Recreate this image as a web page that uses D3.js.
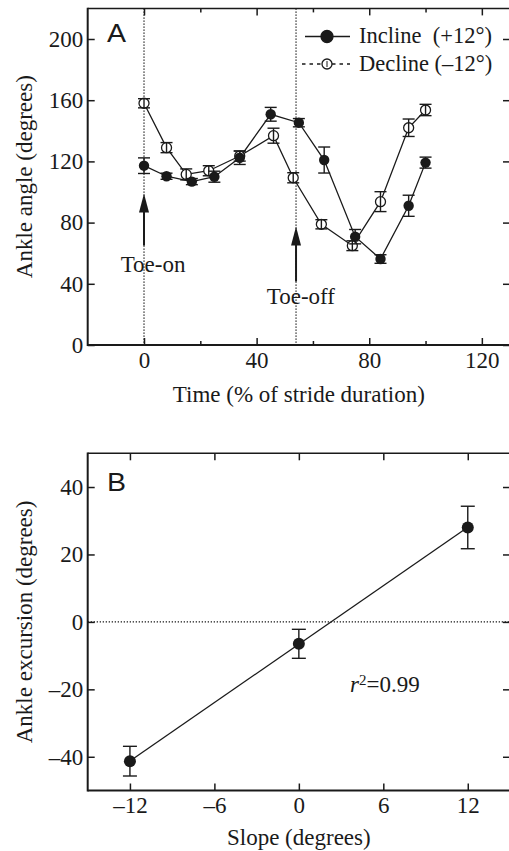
<!DOCTYPE html>
<html>
<head>
<meta charset="utf-8">
<script src="https://cdn.jsdelivr.net/npm/d3@7"></script>
<style>
  html, body { margin: 0; padding: 0; background: #fff; }
  svg { display: block; }
  text { font-family: "Liberation Serif", "Times New Roman", serif; fill: #1a1a1a; }
  .panel-letter { font-family: "Liberation Sans", Arial, sans-serif; }
</style>
</head>
<body>
<script>
// ---- Panel A: ankle angle over the stride ----
const inclineTime  = [0, 8, 17, 25, 34, 45, 55, 64, 75, 84, 94, 100];
const inclineAngle = [117.2, 110.3, 106.8, 110.0, 122.4, 150.8, 145.3, 120.9, 70.8, 56.2, 91.0, 119.2];
const inclineErr   = [5.1, 2.0, 2.0, 3.6, 4.4, 4.5, 2.7, 8.5, 4.7, 2.8, 6.9, 3.6];

const declineTime  = [0, 8, 15, 23, 34, 46, 53, 63, 74, 84, 94, 100];
const declineAngle = [158.0, 129.0, 111.5, 113.9, 123.5, 136.8, 109.3, 78.9, 64.9, 93.7, 142.0, 153.6];
const declineErr   = [3.0, 3.3, 3.6, 3.3, 3.3, 4.9, 3.3, 3.0, 3.2, 6.5, 5.7, 3.7];

const eventNames = ["Toe-on", "Toe-off"];
const eventTimes = [0, 54];

const legendLabels = ["Incline  (+12°)", "Decline (–12°)"];

const timeTicks = [0, 40, 80, 120];
const timeMinorTicks = [20, 60, 100];
const angleTicks = [0, 40, 80, 120, 160, 200];

// ---- Panel B: ankle excursion vs slope ----
const slopes     = [-12, 0, 12];
const excursion  = [-41.3, -6.5, 28.0];
const excursionErr = [4.4, 4.3, 6.3];
const slopeTicks = [-12, -6, 0, 6, 12];
const excursionTicks = [-40, -20, 0, 20, 40];
const fitLabel = "0.99";

const W = 509, H = 851;
const svg = d3.select("body").append("svg").attr("width", W).attr("height", H);

const fmt = d => (d < 0 ? "\u2013" + Math.abs(d) : String(d));
const FONT = 23;

function styleAxis(g) {
  g.attr("font-family", null).attr("font-size", null);
  g.select(".domain").remove();
  g.selectAll(".tick line").attr("stroke", "#1a1a1a").attr("stroke-width", 1.5);
  g.selectAll(".tick text").attr("font-size", FONT).attr("fill", "#1a1a1a")
    .style("font-family", "'Liberation Serif', 'Times New Roman', serif");
}

function frame(x0, x1, y0, y1) {
  const g = svg.append("g");
  g.append("line").attr("x1", x0).attr("x2", x1).attr("y1", y0).attr("y2", y0)
    .attr("stroke", "#1a1a1a").attr("stroke-width", 1.5);
  g.append("line").attr("x1", x1).attr("x2", x1).attr("y1", y0).attr("y2", y1)
    .attr("stroke", "#1a1a1a").attr("stroke-width", 1.5);
  g.append("line").attr("x1", x0).attr("x2", x0).attr("y1", y0 - 0.75).attr("y2", y1 + 1)
    .attr("stroke", "#1a1a1a").attr("stroke-width", 2);
  g.append("line").attr("x1", x0).attr("x2", x1).attr("y1", y1).attr("y2", y1)
    .attr("stroke", "#1a1a1a").attr("stroke-width", 2);
}

function errorBars(g, xs, ys, es, x, y, cap) {
  xs.forEach((xv, i) => {
    const cx = x(xv), top = y(ys[i] + es[i]), bot = y(ys[i] - es[i]);
    g.append("line").attr("x1", cx).attr("x2", cx).attr("y1", top).attr("y2", bot);
    g.append("line").attr("x1", cx - cap).attr("x2", cx + cap).attr("y1", top).attr("y2", top);
    g.append("line").attr("x1", cx - cap).attr("x2", cx + cap).attr("y1", bot).attr("y2", bot);
  });
  g.attr("stroke", "#1a1a1a").attr("stroke-width", 1.4);
}

// ================= Panel A =================
const xA = d3.scaleLinear().domain([-20, 130]).range([87.7, 510]);
const yA = d3.scaleLinear().domain([0, 220]).range([345, 8.4]);

// event markers (dotted verticals)
eventTimes.forEach(t => {
  svg.append("line").attr("x1", xA(t)).attr("x2", xA(t)).attr("y1", yA(220)).attr("y2", yA(0))
    .attr("stroke", "#1a1a1a").attr("stroke-width", 1.3).attr("stroke-dasharray", "1.3,1.7");
});

// axes with inward ticks
svg.append("g").attr("transform", `translate(0,${yA(0)})`)
  .call(d3.axisBottom(xA).tickValues(timeTicks).tickSize(-7).tickPadding(7).tickFormat(fmt))
  .call(styleAxis);
svg.append("g").attr("transform", `translate(0,${yA(0)})`)
  .call(d3.axisBottom(xA).tickValues(timeMinorTicks).tickSize(-4).tickFormat(""))
  .call(styleAxis);
svg.append("g").attr("transform", `translate(0,${yA(220)})`)
  .call(d3.axisTop(xA).tickValues(timeTicks).tickSize(-7).tickFormat(""))
  .call(styleAxis);
svg.append("g").attr("transform", `translate(0,${yA(220)})`)
  .call(d3.axisTop(xA).tickValues(timeMinorTicks).tickSize(-4).tickFormat(""))
  .call(styleAxis);
svg.append("g").attr("transform", `translate(${xA(-20)},0)`)
  .call(d3.axisLeft(yA).tickValues(angleTicks).tickSize(-7).tickPadding(4.5).tickFormat(fmt))
  .call(styleAxis);
svg.append("g").attr("transform", `translate(${xA(130)},0)`)
  .call(d3.axisRight(yA).tickValues(angleTicks).tickSize(-7).tickFormat(""))
  .call(styleAxis);
frame(xA(-20), xA(130), yA(220), yA(0));

// series lines
const lineA = d3.line().x(d => xA(d[0])).y(d => yA(d[1]));
const incPts = inclineTime.map((t, i) => [t, inclineAngle[i]]);
const decPts = declineTime.map((t, i) => [t, declineAngle[i]]);
svg.append("path").attr("d", lineA(decPts)).attr("fill", "none").attr("stroke", "#1a1a1a").attr("stroke-width", 1.3);
svg.append("path").attr("d", lineA(incPts)).attr("fill", "none").attr("stroke", "#1a1a1a").attr("stroke-width", 1.3);

// decline: open circles with bars drawn through them
svg.append("g").selectAll("circle").data(decPts).join("circle")
  .attr("cx", d => xA(d[0])).attr("cy", d => yA(d[1])).attr("r", 5)
  .attr("fill", "#fff").attr("stroke", "#1a1a1a").attr("stroke-width", 1.3);
errorBars(svg.append("g"), declineTime, declineAngle, declineErr, xA, yA, 6);

// incline: filled circles
errorBars(svg.append("g"), inclineTime, inclineAngle, inclineErr, xA, yA, 6);
svg.append("g").selectAll("circle").data(incPts).join("circle")
  .attr("cx", d => xA(d[0])).attr("cy", d => yA(d[1])).attr("r", 5.2)
  .attr("fill", "#1a1a1a");

// event arrows and labels
const arrowSpec = [
  { tail: 65, tip: 99, lx: -8.3, ly: 47.9 },
  { tail: 41.5, tip: 77.5, lx: 43.6, ly: 26.7 }
];
eventTimes.forEach((t, i) => {
  const a = arrowSpec[i];
  const cx = xA(t), tip = yA(a.tip), tail = yA(a.tail);
  svg.append("line").attr("x1", cx).attr("x2", cx).attr("y1", tip + 15).attr("y2", tail)
    .attr("stroke", "#1a1a1a").attr("stroke-width", 2);
  svg.append("path")
    .attr("d", `M${cx},${tip} L${cx - 5},${tip + 19} L${cx + 5},${tip + 19} Z`)
    .attr("fill", "#1a1a1a");
  svg.append("text").attr("x", xA(a.lx)).attr("y", yA(a.ly))
    .attr("font-size", FONT).text(eventNames[i]);
});

// legend
const leg = svg.append("g");
[0, 1].forEach(i => {
  const ly = [36.5, 64][i];
  const ln = leg.append("line").attr("x1", i ? 302 : 305).attr("x2", 350).attr("y1", ly).attr("y2", ly)
    .attr("stroke", "#1a1a1a").attr("stroke-width", 1.4);
  if (i) ln.attr("stroke-dasharray", "3.5,4");
  leg.append("circle").attr("cx", 327).attr("cy", ly).attr("r", i ? 5 : 6)
    .attr("fill", i ? "#fff" : "#1a1a1a").attr("stroke", "#1a1a1a").attr("stroke-width", 1.3);
  if (i) leg.append("line").attr("x1", 327).attr("x2", 327).attr("y1", ly - 3).attr("y2", ly + 3)
    .attr("stroke", "#1a1a1a").attr("stroke-width", 1);
  leg.append("text").attr("x", 359).attr("y", ly + 6.5).attr("font-size", 22.5)
    .attr("xml:space", "preserve").style("white-space", "pre").text(legendLabels[i]);
});

// titles
svg.append("text").attr("class", "panel-letter").attr("x", 107).attr("y", 42.5)
  .attr("font-size", 25.5).attr("transform", "translate(107,42.5) scale(1.12,1) translate(-107,-42.5)").text("A");
svg.append("text").attr("x", (xA(-20) + xA(130)) / 2).attr("y", 401.5).attr("text-anchor", "middle")
  .attr("font-size", FONT).text("Time (% of stride duration)");
svg.append("text").attr("transform", `translate(32,${(yA(0) + yA(220)) / 2}) rotate(-90)`)
  .attr("text-anchor", "middle").attr("font-size", FONT).text("Ankle angle (degrees)");

// ================= Panel B =================
const xB = d3.scaleLinear().domain([-15, 15]).range([87.7, 510]);
const yB = d3.scaleLinear().domain([-50, 50]).range([790.5, 453.3]);

svg.append("line").attr("x1", xB(-15)).attr("x2", xB(15)).attr("y1", yB(0)).attr("y2", yB(0))
  .attr("stroke", "#1a1a1a").attr("stroke-width", 1.3).attr("stroke-dasharray", "1.3,1.7");

svg.append("g").attr("transform", `translate(0,${yB(-50)})`)
  .call(d3.axisBottom(xB).tickValues(slopeTicks).tickSize(-7).tickPadding(6.5).tickFormat(fmt))
  .call(styleAxis);
svg.append("g").attr("transform", `translate(0,${yB(50)})`)
  .call(d3.axisTop(xB).tickValues(slopeTicks).tickSize(-7).tickFormat(""))
  .call(styleAxis);
svg.append("g").attr("transform", `translate(${xB(-15)},0)`)
  .call(d3.axisLeft(yB).tickValues(excursionTicks).tickSize(-7).tickPadding(4.5).tickFormat(fmt))
  .call(styleAxis);
svg.append("g").attr("transform", `translate(${xB(15)},0)`)
  .call(d3.axisRight(yB).tickValues(excursionTicks).tickSize(-7).tickFormat(""))
  .call(styleAxis);
frame(xB(-15), xB(15), yB(50), yB(-50));

// least-squares fit through the three means
const mx = d3.mean(slopes), my = d3.mean(excursion);
const slopeFit = d3.sum(slopes, (s, i) => (s - mx) * (excursion[i] - my)) / d3.sum(slopes, s => (s - mx) ** 2);
const fitAt = s => my + slopeFit * (s - mx);
svg.append("line")
  .attr("x1", xB(slopes[0])).attr("y1", yB(fitAt(slopes[0])))
  .attr("x2", xB(slopes[2])).attr("y2", yB(fitAt(slopes[2])))
  .attr("stroke", "#1a1a1a").attr("stroke-width", 1.3);

errorBars(svg.append("g"), slopes, excursion, excursionErr, xB, yB, 7);
svg.append("g").selectAll("circle").data(slopes).join("circle")
  .attr("cx", d => xB(d)).attr("cy", (d, i) => yB(excursion[i])).attr("r", 6)
  .attr("fill", "#1a1a1a");

const r2 = svg.append("text").attr("x", 350).attr("y", 691.5).attr("font-size", FONT);
r2.append("tspan").attr("font-style", "italic").text("r");
r2.append("tspan").attr("font-size", 15).attr("dy", -7).text("2");
r2.append("tspan").attr("dy", 7).text("=" + fitLabel);

svg.append("text").attr("class", "panel-letter").attr("x", 107).attr("y", 491.5)
  .attr("font-size", 25.5).attr("transform", "translate(107,491.5) scale(1.12,1) translate(-107,-491.5)").text("B");
svg.append("text").attr("x", (xB(-15) + xB(15)) / 2).attr("y", 845).attr("text-anchor", "middle")
  .attr("font-size", FONT).text("Slope (degrees)");
svg.append("text").attr("transform", `translate(32,${(yB(-50) + yB(50)) / 2}) rotate(-90)`)
  .attr("text-anchor", "middle").attr("font-size", FONT).text("Ankle excursion (degrees)");
</script>
</body>
</html>
